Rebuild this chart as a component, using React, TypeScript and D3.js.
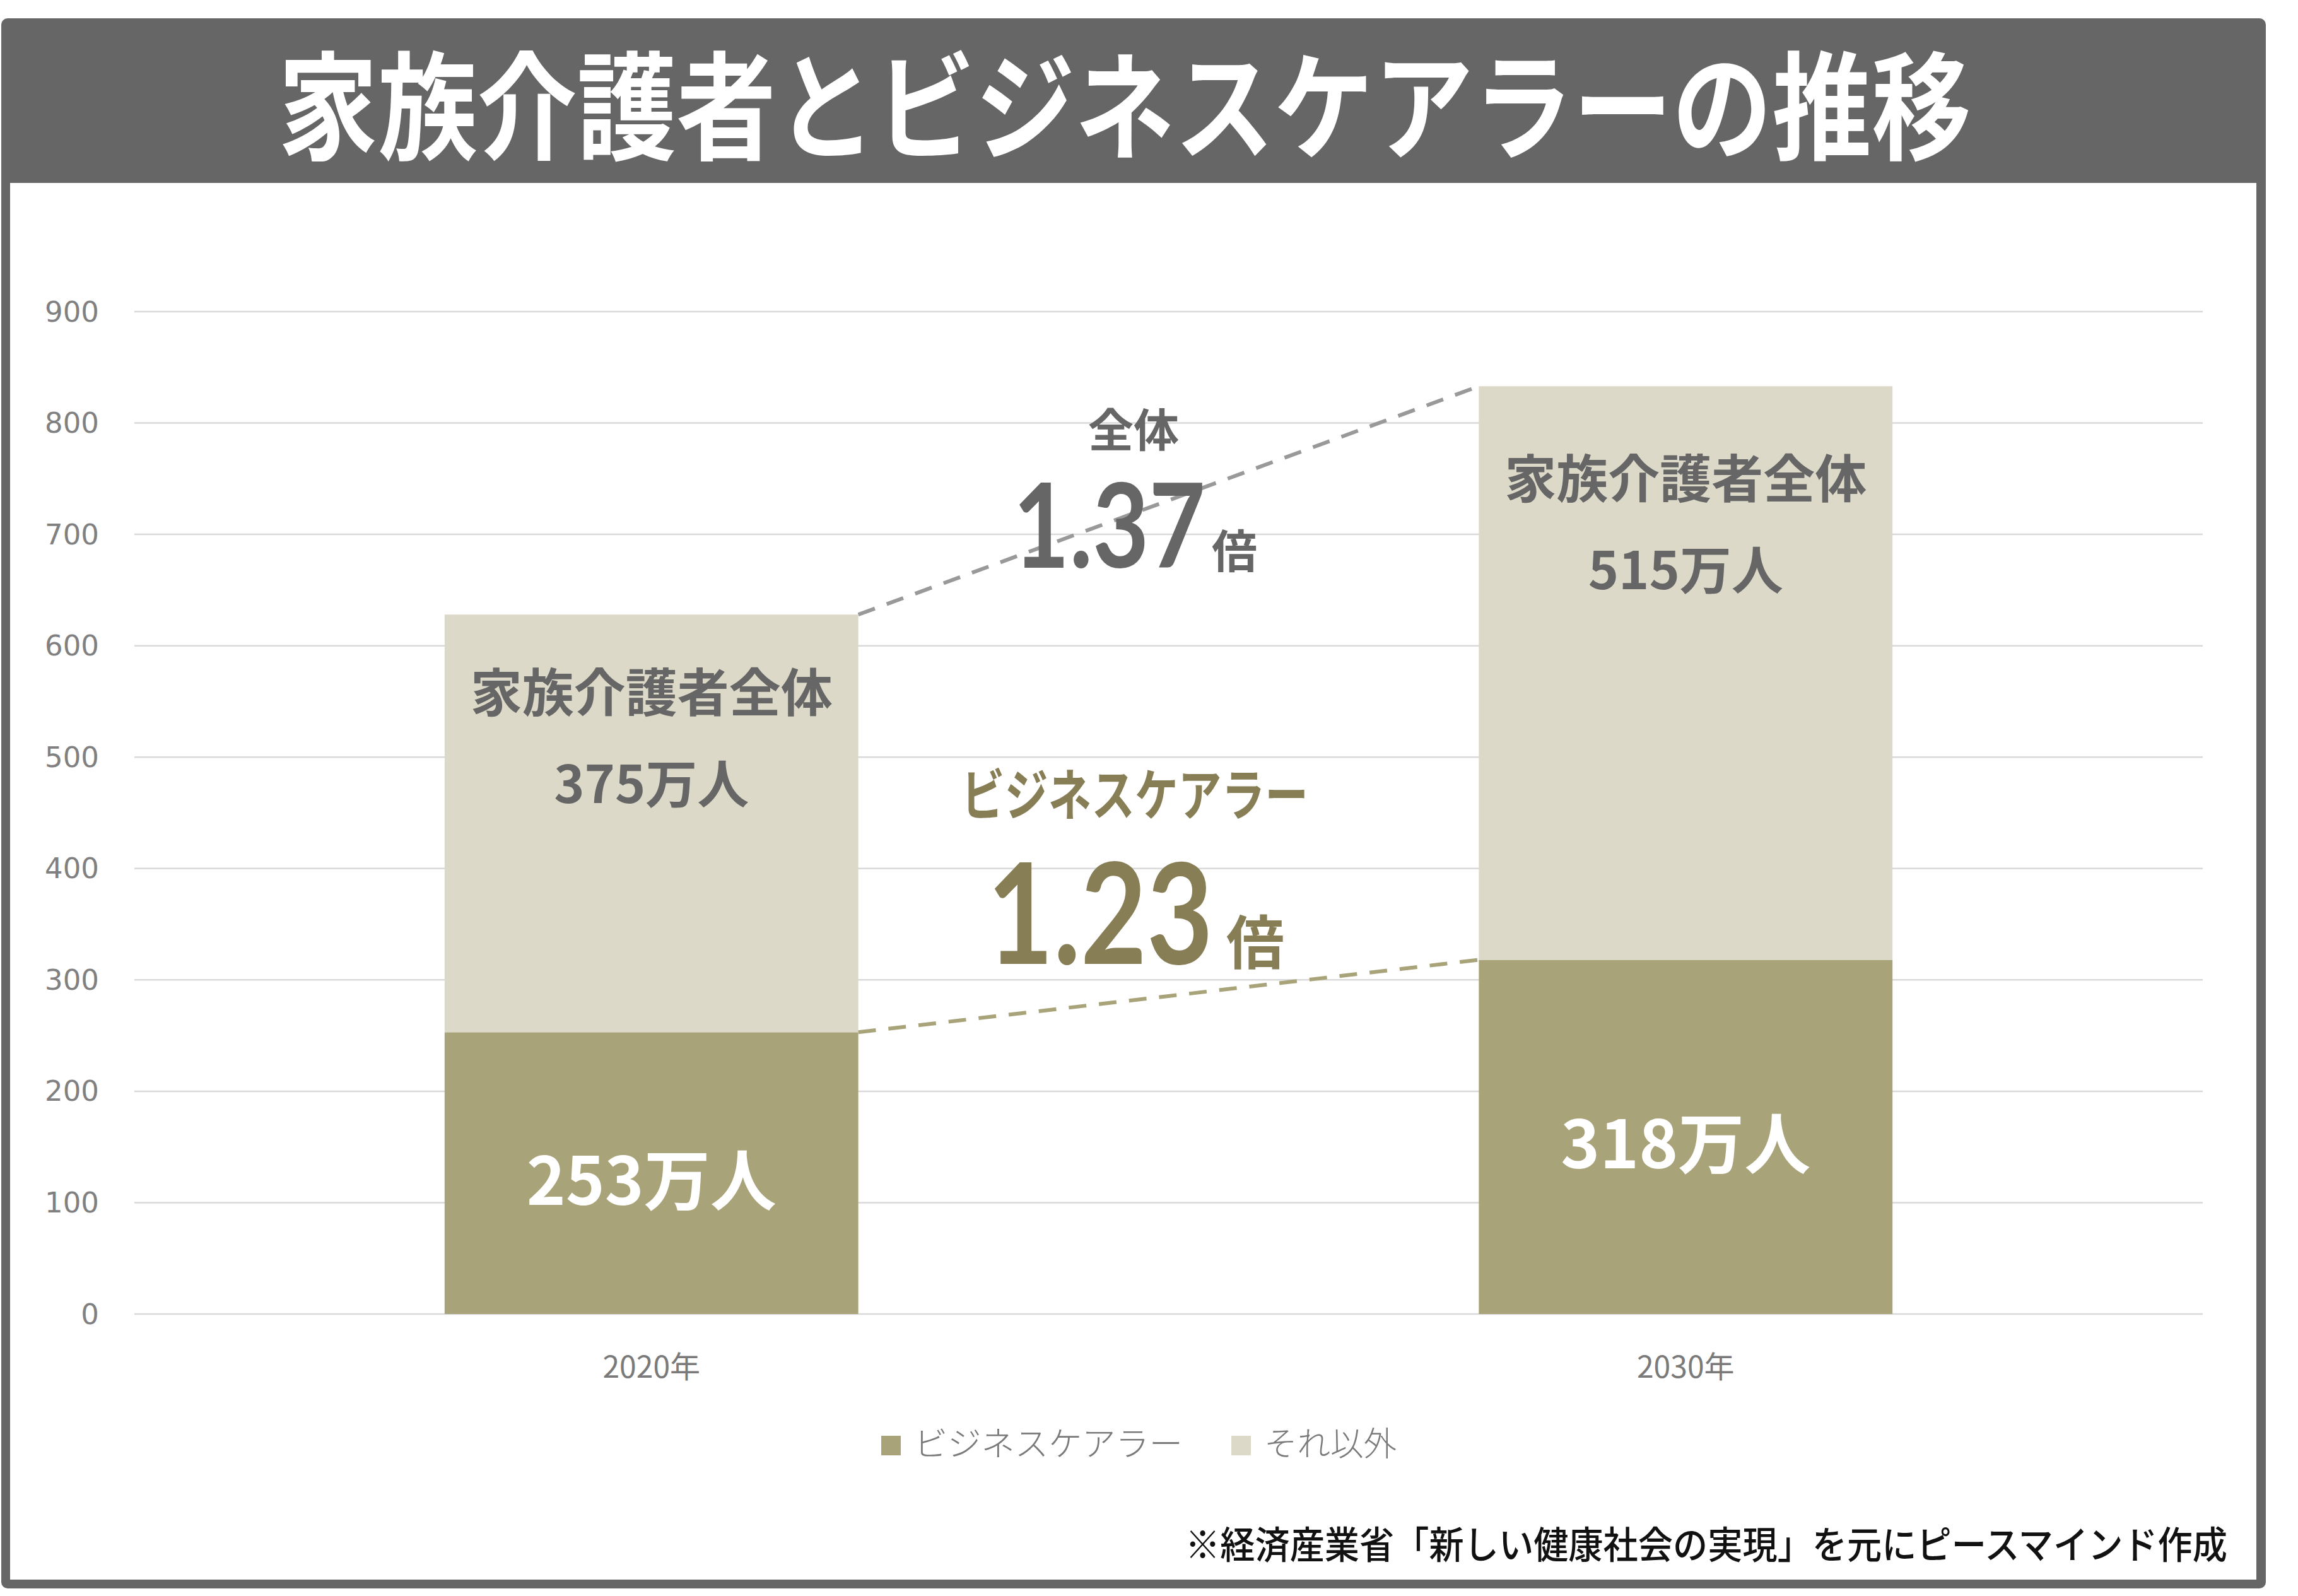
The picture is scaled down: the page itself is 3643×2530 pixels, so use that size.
import React from "react";
import * as d3 from "d3";

const categories = ["2020年", "2030年"];
const businessCarers = [253, 318];
const others = [375, 515];
const yTicks = [0, 100, 200, 300, 400, 500, 600, 700, 800, 900];
const seriesNames = ["ビジネスケアラー", "それ以外"];
const totalLabels = ["375万人", "515万人"];
const bizLabels = ["253万人", "318万人"];
const ratioTotal = "1.37";
const ratioBiz = "1.23";

const W = 3643;
const H = 2530;
const C_BIZ = "#A9A379";
const C_OTH = "#DCD9C8";
const C_GRAY = "#666666";
const C_OLIVE = "#877E56";
const JP = "'Noto Sans CJK JP', 'Noto Sans', sans-serif";

export default function App() {
  const plotL = 213, plotR = 3492, plotT = 494, plotB = 2083;
  const x = d3.scaleBand<string>().domain(categories).range([plotL, plotR]).paddingInner(0.6).paddingOuter(0.3);
  const y = d3.scaleLinear().domain([0, 900]).range([plotB, plotT]);
  const bw = x.bandwidth();

  const stackData = categories.map((c, i) => ({ cat: c, biz: businessCarers[i], oth: others[i] }));
  const stack = d3.stack<any>().keys(["biz", "oth"])(stackData);

  const x0 = x(categories[0])!;
  const x1 = x(categories[1])!;
  const tot0 = businessCarers[0] + others[0];
  const tot1 = businessCarers[1] + others[1];
  const topOffsets = [118, 141];

  return (
    <svg width={W} height={H} style={{ position: "absolute", left: 0, top: 0 }} xmlns="http://www.w3.org/2000/svg">
      <rect x={0} y={0} width={W} height={H} fill="#ffffff" />
      {/* frame */}
      <rect x={2} y={29} width={3590} height={2489} rx={10} fill="#666666" />
      <rect x={16} y={290} width={3561} height={2214} fill="#ffffff" />
      {/* title */}
      <text x={1783} y={158} fill="#ffffff" fontFamily={JP} fontWeight={700} fontSize={186}
        textAnchor="middle" dominantBaseline="central" textLength={2684} lengthAdjust="spacingAndGlyphs">
        家族介護者とビジネスケアラーの推移
      </text>

      {/* grid */}
      {yTicks.map((t) => (
        <g key={t}>
          <line x1={plotL} x2={plotR} y1={y(t)} y2={y(t)} stroke="#D9D9D9" strokeWidth={2.5} />
          <text x={157} y={y(t)} fill="#808080" fontFamily="'DejaVu Sans', sans-serif" fontSize={45}
            textAnchor="end" dominantBaseline="central">{t}</text>
        </g>
      ))}

      {/* bars */}
      {stack.map((s, si) => (
        <g key={si} fill={si === 0 ? C_BIZ : C_OTH}>
          {s.map((d: any, i: number) => (
            <rect key={i} x={x(d.data.cat)} y={y(d[1])} width={bw} height={y(d[0]) - y(d[1])} />
          ))}
        </g>
      ))}

      {/* dashed connectors */}
      <line x1={x0 + bw} y1={y(tot0)} x2={x1} y2={y(tot1)} stroke="#999999" strokeWidth={6} strokeDasharray="28 20" />
      <line x1={x0 + bw} y1={y(businessCarers[0])} x2={x1} y2={y(businessCarers[1])} stroke={C_BIZ} strokeWidth={6} strokeDasharray="28 20" />

      {/* bar labels */}
      {categories.map((c, i) => {
        const cx = x(c)! + bw / 2;
        const top = y(businessCarers[i] + others[i]);
        const bizMid = (y(0) + y(businessCarers[i])) / 2;
        return (
          <g key={c}>
            <text x={cx} y={top + topOffsets[i]} fill={C_GRAY} fontFamily={JP} fontWeight={700} fontSize={82}
              textAnchor="middle" dominantBaseline="central">家族介護者全体</text>
            <text x={cx} y={top + topOffsets[i] + 145} fill={C_GRAY} fontFamily={JP} fontWeight={700} fontSize={82}
              textAnchor="middle" dominantBaseline="central">{totalLabels[i]}</text>
            <text x={cx} y={bizMid + 4} fill="#ffffff" fontFamily={JP} fontWeight={700} fontSize={105}
              textAnchor="middle" dominantBaseline="central">{bizLabels[i]}</text>
            <text x={cx} y={2163} fill="#7A7A7A" fontFamily={JP} fontWeight={400} fontSize={48}
              textAnchor="middle" dominantBaseline="central">{c}</text>
          </g>
        );
      })}

      {/* annotations */}
      <text x={1797} y={676} fill={C_GRAY} fontFamily={JP} fontWeight={700} fontSize={72}
        textAnchor="middle" dominantBaseline="central">全体</text>
      <text x={1606} y={900} fill={C_GRAY} fontFamily="Lato, 'Noto Sans', sans-serif" fontWeight={700} fontSize={185}
        textLength={305} lengthAdjust="spacingAndGlyphs">{ratioTotal}</text>
      <text x={1921} y={900} fill={C_GRAY} fontFamily={JP} fontWeight={700} fontSize={72}>倍</text>

      <text x={1524} y={1253} fill={C_OLIVE} fontFamily={JP} fontWeight={700} fontSize={88}
        dominantBaseline="central" textLength={550} lengthAdjust="spacingAndGlyphs">ビジネスケアラー</text>
      <text x={1565} y={1528} fill={C_OLIVE} fontFamily="Lato, 'Noto Sans', sans-serif" fontWeight={700} fontSize={222}
        textLength={358} lengthAdjust="spacingAndGlyphs">{ratioBiz}</text>
      <text x={1944} y={1528} fill={C_OLIVE} fontFamily={JP} fontWeight={700} fontSize={92}>倍</text>

      {/* legend */}
      <rect x={1397} y={2276} width={31} height={31} fill={C_BIZ} />
      <text x={1449} y={2285} fill="#7A7A7A" fontFamily={JP} fontWeight={300} fontSize={53}
        dominantBaseline="central" textLength={426} lengthAdjust="spacingAndGlyphs">{seriesNames[0]}</text>
      <rect x={1952} y={2276} width={31} height={31} fill={C_OTH} />
      <text x={2004} y={2285} fill="#7A7A7A" fontFamily={JP} fontWeight={300} fontSize={53}
        dominantBaseline="central" textLength={210} lengthAdjust="spacingAndGlyphs">{seriesNames[1]}</text>

      {/* footnote */}
      <text x={3531} y={2444} fill="#111111" fontFamily={JP} fontWeight={500} fontSize={60}
        textAnchor="end" dominantBaseline="central" textLength={1652} lengthAdjust="spacingAndGlyphs">
        ※経済産業省「新しい健康社会の実現」を元にピースマインド作成
      </text>
    </svg>
  );
}
